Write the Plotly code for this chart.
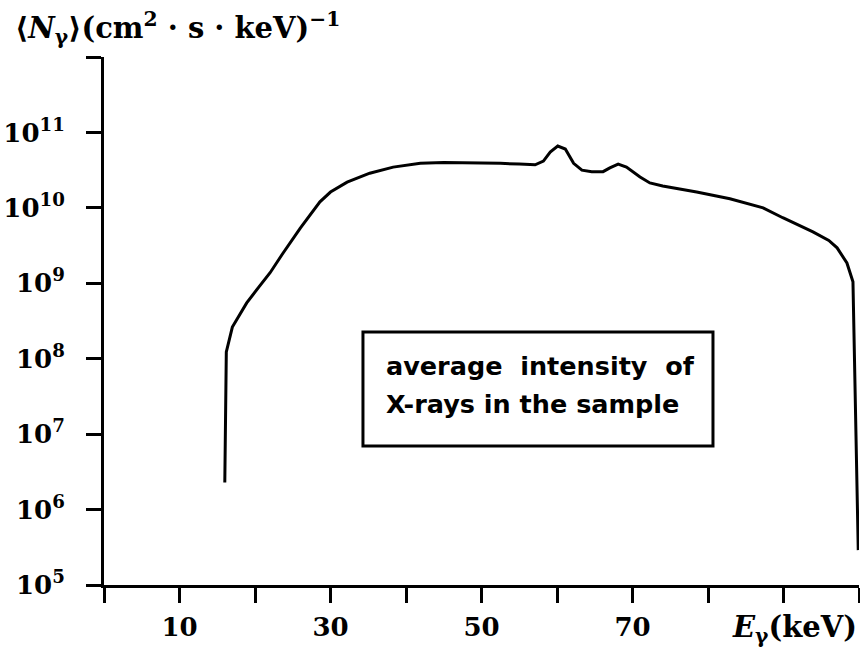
import plotly.graph_objects as go

energy_kev = [16.0, 16.2, 17.0, 18.9, 20.5, 22.0, 23.7, 26.0, 28.6, 30.0, 32.2, 35.2,
              38.3, 41.9, 45.0, 48.0, 52.5, 55.0, 57.1, 58.2, 59.1, 60.1, 61.1, 62.2,
              63.3, 64.6, 66.1, 67.0, 68.1, 69.2, 71.0, 72.3, 74.0, 78.5, 82.9, 87.3,
              89.9, 93.9, 96.0, 97.1, 98.4, 99.2, 99.9]
intensity = [2.29e6, 1.23e8, 2.63e8, 5.5e8, 8.9e8, 1.38e9, 2.5e9, 5.4e9, 1.2e10, 1.62e10,
             2.19e10, 2.88e10, 3.47e10, 3.89e10, 3.98e10, 3.98e10, 3.89e10, 3.8e10, 3.72e10,
             4.17e10, 5.5e10, 6.6e10, 6.03e10, 3.89e10, 3.16e10, 3.02e10, 3.02e10, 3.39e10,
             3.8e10, 3.47e10, 2.57e10, 2.14e10, 1.95e10, 1.62e10, 1.32e10, 1.0e10, 7.4e9,
             4.8e9, 3.7e9, 2.95e9, 1.86e9, 1.05e9, 2.9e5]

x_tickvals = [0, 10, 20, 30, 40, 50, 60, 70, 80, 90, 100]
x_ticktext = ["", "10", "", "30", "", "50", "", "70", "", "", ""]
y_tickvals = [1e5, 1e6, 1e7, 1e8, 1e9, 1e10, 1e11, 1e12]
y_ticktext = ["10<sup>5</sup>", "10<sup>6</sup>", "10<sup>7</sup>", "10<sup>8</sup>",
              "10<sup>9</sup>", "10<sup>10</sup>", "10<sup>11</sup>", ""]

y_title = "⟨<i>N</i><sub>γ</sub>⟩(cm<sup>2</sup> · s · keV)<sup>−1</sup>"
x_title = "<i>E</i><sub>γ</sub>(keV)"
box_line1 = "average  intensity  of"
box_line2 = "X-rays in the sample"

SERIF = "DejaVu Serif"
SANS = "DejaVu Sans"

fig = go.Figure()
fig.add_trace(go.Scatter(x=energy_kev, y=intensity, mode="lines",
                         line=dict(color="black", width=3), showlegend=False,
                         hoverinfo="skip"))

fig.update_layout(
    width=860, height=650,
    margin=dict(l=104, r=1, t=57, b=65),
    paper_bgcolor="white", plot_bgcolor="white",
    xaxis=dict(range=[0, 100], tickvals=x_tickvals, ticktext=x_ticktext,
               showgrid=False, zeroline=False, showline=True, linecolor="black",
               linewidth=3, ticks="outside", ticklen=15, tickwidth=3, tickcolor="black",
               tickfont=dict(family=SERIF, size=26, color="black", weight="bold"),
               ticklabelstandoff=2),
    yaxis=dict(type="log", range=[5, 12], tickvals=y_tickvals, ticktext=y_ticktext,
               showgrid=False, zeroline=False, showline=True, linecolor="black",
               linewidth=3, ticks="outside", ticklen=15, tickwidth=3, tickcolor="black",
               tickfont=dict(family=SERIF, size=26, color="black", weight="bold"),
               ticklabelstandoff=16),
)

# axis titles
fig.add_annotation(xref="paper", yref="paper", x=-0.12, y=1.0, yshift=52,
                   xanchor="left", yanchor="top", text=y_title, showarrow=False,
                   font=dict(family=SERIF, size=29, color="black", weight="bold"))
fig.add_annotation(xref="paper", yref="paper", x=1.0, y=0, yshift=-23,
                   xanchor="right", yanchor="top", text=x_title, showarrow=False,
                   font=dict(family=SERIF, size=29, color="black", weight="bold"))

# framed text box
fig.add_shape(type="rect", xref="paper", yref="paper", x0=0.343, x1=0.8066,
              y0=0.2633, y1=0.479, line=dict(color="black", width=3),
              fillcolor="white", layer="above")
fig.add_annotation(xref="paper", yref="paper", x=0.371, y=0.414, xanchor="left",
                   yanchor="middle", text=box_line1, showarrow=False,
                   font=dict(family=SANS, size=25.5, color="black", weight="bold"))
fig.add_annotation(xref="paper", yref="paper", x=0.371, y=0.343, xanchor="left",
                   yanchor="middle", text=box_line2, showarrow=False,
                   font=dict(family=SANS, size=25.5, color="black", weight="bold"))

fig.write_html("out.html", config={"displayModeBar": False},
               post_script="document.body.style.margin='0';")
